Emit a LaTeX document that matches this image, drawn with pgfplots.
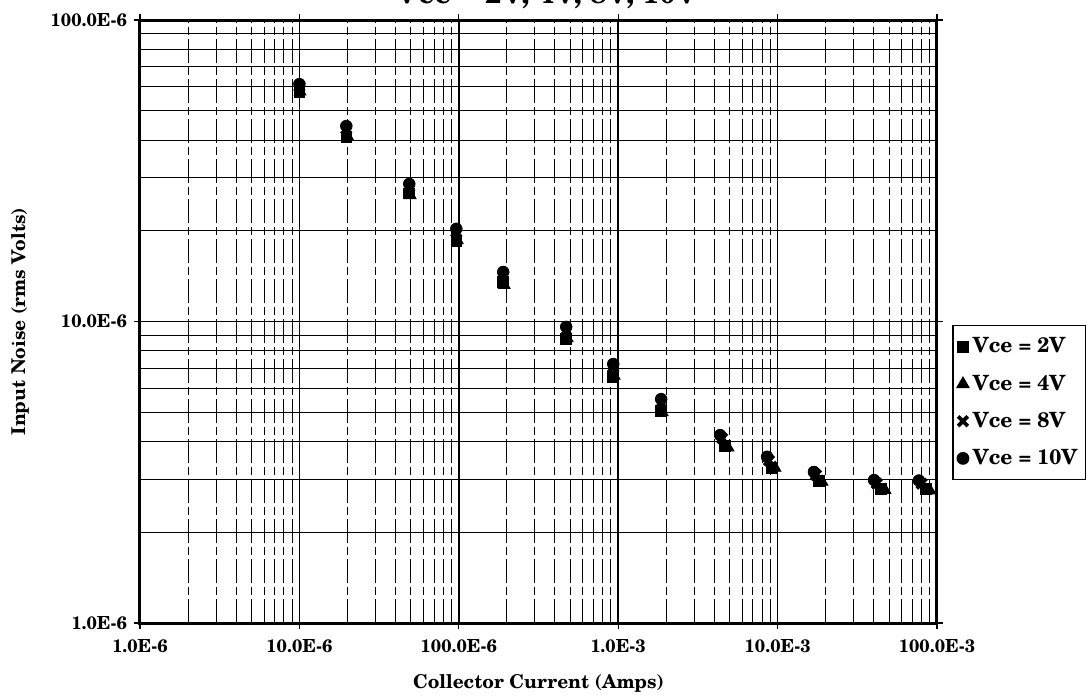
\documentclass[border=0pt]{standalone}
\usepackage{fontspec}
\setmainfont{TeX Gyre Schola}
\usepackage{pgfplots}
\usepackage{pgfplotstable}
\pgfplotsset{compat=1.18}

% Collector current (A) and input noise (V rms) for each Vce
\pgfplotstableread{
I       N
10.0e-6  57.7e-6
19.7e-6  40.9e-6
48.9e-6  26.6e-6
96.5e-6  18.5e-6
190e-6   13.5e-6
472e-6   8.75e-6
931e-6   6.54e-6
1.86e-3  5.05e-6
4.69e-3  3.86e-6
9.23e-3  3.28e-6
18.2e-3  2.97e-6
44.6e-3  2.79e-6
85.2e-3  2.78e-6
}\vcetwo
\pgfplotstableread{
I       N
10.1e-6  57.9e-6
20.0e-6  41.2e-6
49.6e-6  26.2e-6
97.9e-6  18.6e-6
193e-6   13.2e-6
479e-6   8.80e-6
945e-6   6.60e-6
1.89e-3  5.00e-6
4.89e-3  3.82e-6
9.64e-3  3.27e-6
19.0e-3  2.94e-6
47.2e-3  2.76e-6
90.3e-3  2.75e-6
}\vcefour
\pgfplotstableread{
I       N
10.0e-6  60.2e-6
19.7e-6  43.5e-6
48.9e-6  28.0e-6
96.5e-6  19.8e-6
190e-6   14.2e-6
472e-6   9.35e-6
931e-6   7.05e-6
1.86e-3  5.38e-6
4.49e-3  4.10e-6
8.84e-3  3.46e-6
17.4e-3  3.10e-6
41.9e-3  2.90e-6
80.1e-3  2.90e-6
}\vceeight
\pgfplotstableread{
I       N
10.0e-6  61.3e-6
19.7e-6  44.5e-6
48.9e-6  28.6e-6
96.5e-6  20.3e-6
190e-6   14.6e-6
472e-6   9.60e-6
931e-6   7.23e-6
1.86e-3  5.53e-6
4.36e-3  4.20e-6
8.59e-3  3.56e-6
16.9e-3  3.17e-6
40.3e-3  2.98e-6
77.0e-3  2.97e-6
}\vceten

\begin{document}
\begin{tikzpicture}
\begin{axis}[
  at={(0,0)}, anchor=south west,
  scale only axis, width=398.5pt, height=301.5pt,
  xmode=log, ymode=log,
  xmin=1e-6, xmax=100e-3, ymin=1e-6, ymax=100e-6,
  xtick={1e-6,1e-5,1e-4,1e-3,1e-2,1e-1},
  xticklabels={1.0E-6,10.0E-6,100.0E-6,1.0E-3,10.0E-3,100.0E-3},
  ytick={1e-6,1e-5,1e-4},
  yticklabels={1.0E-6,10.0E-6,100.0E-6},
  minor xtick={2e-6,3e-6,4e-6,5e-6,6e-6,7e-6,8e-6,9e-6,
               2e-5,3e-5,4e-5,5e-5,6e-5,7e-5,8e-5,9e-5,
               2e-4,3e-4,4e-4,5e-4,6e-4,7e-4,8e-4,9e-4,
               2e-3,3e-3,4e-3,5e-3,6e-3,7e-3,8e-3,9e-3,
               2e-2,3e-2,4e-2,5e-2,6e-2,7e-2,8e-2,9e-2},
  minor ytick={2e-6,3e-6,4e-6,5e-6,6e-6,7e-6,8e-6,9e-6,
               2e-5,3e-5,4e-5,5e-5,6e-5,7e-5,8e-5,9e-5},
  grid=both,
  major grid style={black, line width=0.8pt},
  minor grid style={black, line width=0.45pt},
  minor x grid style={black, line width=0.45pt, dash pattern=on 12pt off 2pt on 4pt off 2pt},
  axis line style={black, line width=1.5pt},
  tick align=outside, major tick length=3pt, minor tick length=0pt,
  tick style={black, line width=0.6pt},
  ticklabel style={font=\bfseries\fontsize{9}{10}\selectfont},
  xticklabel style={yshift=-1.5pt},
  xlabel={Collector Current (Amps)},
  ylabel={Input Noise (rms Volts)},
  label style={font=\bfseries\fontsize{9.5}{11}\selectfont},
  xlabel style={at={(axis description cs:0.5,-0.1)}, anchor=center},
  ylabel style={at={(axis description cs:-0.1506,0.5)}, anchor=center},
  title={Vce = 2V, 4V, 8V, 10V},
  title style={font=\bfseries\fontsize{14.5}{16}\selectfont,
               at={(axis description cs:0.511,1)}, anchor=base, yshift=2.5pt},
  legend style={at={(axis description cs:1.1869,0.2371)}, anchor=south east,
                draw=black, line width=0.6pt,
                font=\bfseries\fontsize{10.5}{12.5}\selectfont,
                row sep=5.5pt, inner xsep=2pt, inner ysep=4pt},
  legend cell align=left,
]
\addplot[only marks, mark=square*, mark size=2.7pt, black] table[x=I, y=N] {\vcetwo};
\addlegendentry{Vce = 2V}
\addplot[only marks, mark=triangle*, mark size=3.4pt, black] table[x=I, y=N] {\vcefour};
\addlegendentry{Vce = 4V}
\addplot[only marks, mark=x, mark size=3.4pt, black, mark options={line width=1.9pt}] table[x=I, y=N] {\vceeight};
\addlegendentry{Vce = 8V}
\addplot[only marks, mark=*, mark size=2.9pt, black] table[x=I, y=N] {\vceten};
\addlegendentry{Vce = 10V}
\end{axis}
\pgfresetboundingbox
\useasboundingbox (-70pt,-37.5pt) rectangle (473.5pt,311.5pt);
\end{tikzpicture}
\end{document}
